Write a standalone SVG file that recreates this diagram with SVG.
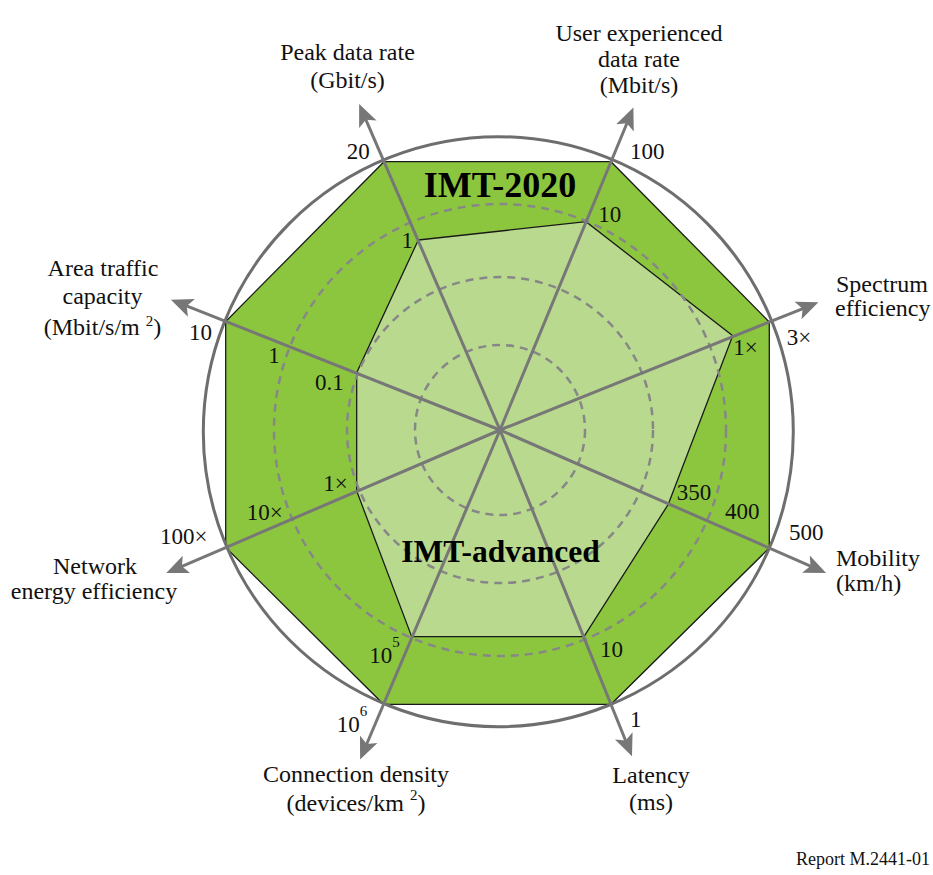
<svg xmlns="http://www.w3.org/2000/svg" width="933" height="875" viewBox="0 0 933 875">
  <style>
    .lbl { font-family: "Liberation Serif", "Times New Roman", serif; font-size: 24px; fill: #111; }
    .num { font-family: "Liberation Serif", "Times New Roman", serif; font-size: 23px; fill: #111; }
    .title { font-family: "Liberation Serif", "Times New Roman", serif; font-weight: bold; fill: #000; text-anchor: middle; }
    .mid { text-anchor: middle; }
    .sup { font-size: 15px; }
    .axis { stroke: #777777; stroke-width: 3; fill: none; marker-end: url(#arrow); }
    .grid { stroke: #878787; stroke-width: 2.5; fill: none; stroke-dasharray: 8 6; }
  </style>
  <defs>
    <marker id="arrow" markerUnits="userSpaceOnUse" markerWidth="24" markerHeight="22" refX="10" refY="10" orient="auto">
      <path d="M0,0.5 L22,10 L0,19.5 L5,10 z" fill="#777777"/>
    </marker>
  </defs>
  <rect width="933" height="875" fill="#ffffff"/>

  <!-- IMT-2020 capability area -->
  <g id="imt2020-area">
    <polygon points="384,161.7 611,161.7 769.3,322 769.3,548 611,704.3 383.5,704.3 225.7,547.5 225.7,321.5" fill="#8cc63f" stroke="#1a1a1a" stroke-width="1.3"/>
  </g>

  <!-- IMT-advanced capability area -->
  <g id="imt-advanced-area">
    <polygon points="418.3,240 586,221.7 732.7,335.7 668.3,504.3 584,636.7 411.7,636.7 356.7,491 356.7,372.7" fill="#b9da8e" stroke="#1a1a1a" stroke-width="1.3"/>
  </g>

  <!-- scale rings -->
  <g id="rings">
    <circle class="grid" cx="500" cy="430" r="85"/>
    <circle class="grid" cx="500" cy="430" r="153"/>
    <circle class="grid" cx="500" cy="430" r="226"/>
    <circle cx="498.3" cy="431.7" r="295" fill="none" stroke="#6e6e6e" stroke-width="3"/>
  </g>

  <!-- axes -->
  <g id="connectors">
    <line class="axis" x1="500" y1="430" x2="363.9" y2="115.1"/>
    <line class="axis" x1="500" y1="430" x2="628.8" y2="118.7"/>
    <line class="axis" x1="500" y1="430" x2="807.3" y2="306.8"/>
    <line class="axis" x1="500" y1="430" x2="815.1" y2="568.1"/>
    <line class="axis" x1="500" y1="430" x2="627.5" y2="745.2"/>
    <line class="axis" x1="500" y1="430" x2="364.8" y2="748.5"/>
    <line class="axis" x1="500" y1="430" x2="177.3" y2="568.3"/>
    <line class="axis" x1="500" y1="430" x2="182.1" y2="304.2"/>
  </g>

  <!-- area titles -->
  <g id="title-imt2020">
    <text class="title" x="500" y="197" font-size="36">IMT-2020</text>
  </g>
  <g id="title-imt-advanced">
    <text class="title" x="500.5" y="562" font-size="31.5">IMT-advanced</text>
  </g>

  <!-- axis: peak data rate -->
  <g id="axis-peak-data-rate">
    <text class="lbl mid" x="347.5" y="60">Peak data rate</text>
    <text class="lbl mid" x="347.5" y="88">(Gbit/s)</text>
    <text class="num" x="346.7" y="159">20</text>
    <text class="num" x="401.5" y="248">1</text>
  </g>

  <!-- axis: user experienced data rate -->
  <g id="axis-user-data-rate">
    <text class="lbl mid" x="639" y="41">User experienced</text>
    <text class="lbl mid" x="639" y="67">data rate</text>
    <text class="lbl mid" x="639" y="93">(Mbit/s)</text>
    <text class="num" x="630" y="159">100</text>
    <text class="num" x="598.3" y="221.7">10</text>
  </g>

  <!-- axis: spectrum efficiency -->
  <g id="axis-spectrum-efficiency">
    <text class="lbl" x="836" y="292">Spectrum</text>
    <text class="lbl" x="835" y="316">efficiency</text>
    <text class="num" x="786.7" y="345">3×</text>
    <text class="num" x="733.3" y="355">1×</text>
  </g>

  <!-- axis: mobility -->
  <g id="axis-mobility">
    <text class="lbl" x="836" y="566">Mobility</text>
    <text class="lbl" x="836" y="591">(km/h)</text>
    <text class="num" x="789" y="540">500</text>
    <text class="num" x="725" y="519.3">400</text>
    <text class="num" x="676.7" y="500">350</text>
  </g>

  <!-- axis: latency -->
  <g id="axis-latency">
    <text class="lbl mid" x="651" y="783">Latency</text>
    <text class="lbl mid" x="651" y="810">(ms)</text>
    <text class="num" x="630" y="726.7">1</text>
    <text class="num" x="600" y="656.7">10</text>
  </g>

  <!-- axis: connection density -->
  <g id="axis-connection-density">
    <text class="lbl mid" x="356" y="782">Connection density</text>
    <text class="lbl mid" x="356" y="811">(devices/km <tspan class="sup" dy="-11">2</tspan><tspan dy="11">)</tspan></text>
    <text class="num" x="336.7" y="731.7">10<tspan class="sup" dy="-16">6</tspan></text>
    <text class="num" x="369.3" y="663.3">10<tspan class="sup" dy="-16">5</tspan></text>
  </g>

  <!-- axis: network energy efficiency -->
  <g id="axis-network-energy">
    <text class="lbl mid" x="95" y="574">Network</text>
    <text class="lbl mid" x="94" y="599">energy efficiency</text>
    <text class="num" x="160" y="544">100×</text>
    <text class="num" x="246.7" y="520">10×</text>
    <text class="num" x="323.3" y="490.7">1×</text>
  </g>

  <!-- axis: area traffic capacity -->
  <g id="axis-area-traffic">
    <text class="lbl mid" x="103" y="276">Area traffic</text>
    <text class="lbl mid" x="102.5" y="304">capacity</text>
    <text class="lbl mid" x="102.5" y="335">(Mbit/s/m <tspan class="sup" dy="-9">2</tspan><tspan dy="9">)</tspan></text>
    <text class="num" x="189" y="340">10</text>
    <text class="num" x="268.3" y="363.3">1</text>
    <text class="num" x="315" y="390">0.1</text>
  </g>

  <g id="caption">
    <text x="930" y="865" font-family="Liberation Serif, Times New Roman, serif" font-size="18" fill="#111" text-anchor="end">Report M.2441-01</text>
  </g>
</svg>
